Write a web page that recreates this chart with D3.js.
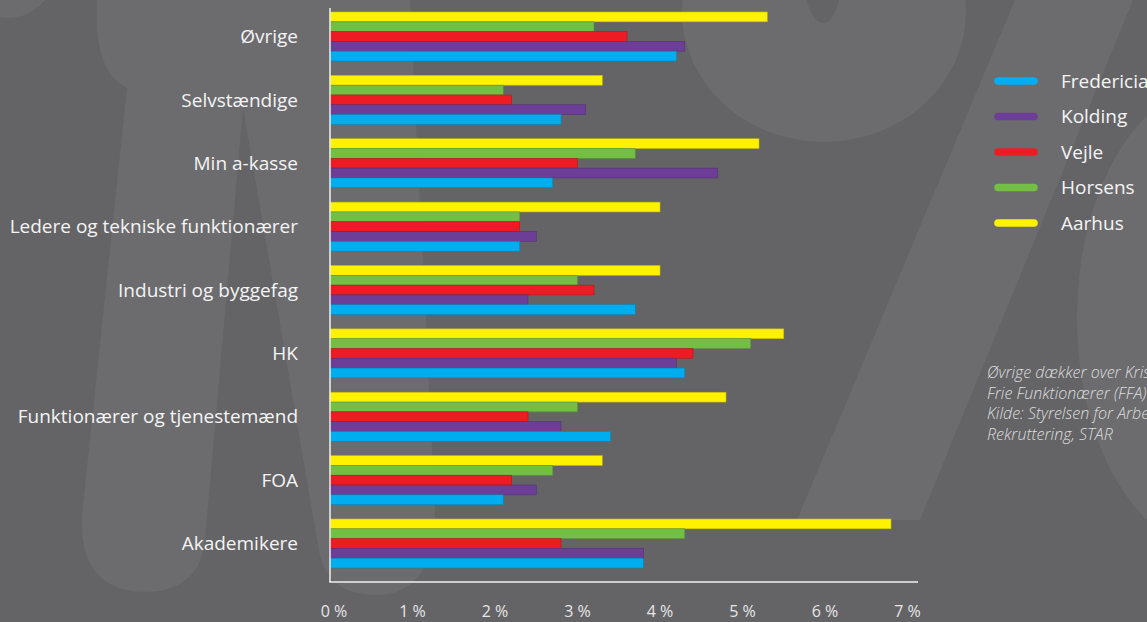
<!DOCTYPE html>
<html lang="da">
<head>
    <meta charset="UTF-8">
    <title>Ledighed fordelt på a-kasse</title>
    <script src="https://d3js.org/d3.v7.min.js"></script>
    <style>
        body{
            margin: 0;
            background-color: #646466;
        }
        svg text{
            font-family: "Open Sans", sans-serif;
        }
    </style>
</head>
<body>
<svg id="canvas" width="1147" height="622"></svg>
<script>
    // kategorier (oppefra og ned)
    let categories = ["Øvrige", "Selvstændige", "Min a-kasse", "Ledere og tekniske funktionærer",
        "Industri og byggefag", "HK", "Funktionærer og tjenestemænd", "FOA", "Akademikere"];

    // serier i rækkefølge oppefra i hver gruppe
    let cities = ["Aarhus", "Horsens", "Vejle", "Kolding", "Fredericia"];
    // legend-rækkefølge
    let legendOrder = ["Fredericia", "Kolding", "Vejle", "Horsens", "Aarhus"];

    let aarhus     = [5.3, 3.3, 5.2, 4.0, 4.0, 5.5, 4.8, 3.3, 6.8];
    let horsens    = [3.2, 2.1, 3.7, 2.3, 3.0, 5.1, 3.0, 2.7, 4.3];
    let vejle      = [3.6, 2.2, 3.0, 2.3, 3.2, 4.4, 2.4, 2.2, 2.8];
    let kolding    = [4.3, 3.1, 4.7, 2.5, 2.4, 4.2, 2.8, 2.5, 3.8];
    let fredericia = [4.2, 2.8, 2.7, 2.3, 3.7, 4.3, 3.4, 2.1, 3.8];

    let ticks = [0, 1, 2, 3, 4, 5, 6, 7];

    let colors = {
        Fredericia: "#00aeef",
        Kolding: "#6d3e97",
        Vejle: "#ed1c24",
        Horsens: "#72bf44",
        Aarhus: "#fff200"
    };

    let values = {Aarhus: aarhus, Horsens: horsens, Vejle: vejle, Kolding: kolding, Fredericia: fredericia};

    let svg = d3.select('svg');

    // baggrund: stort "%"-vandmærke
    let bg = svg.append('g').attr("fill", "#6c6c6e");
    bg.append('ellipse').attr("cx", 8).attr("cy", -22).attr("rx", 44).attr("ry", 40);
    bg.append('path').attr("d",
        "M97,0 L97,28 Q100,75 127,88 L82,515 Q78,592 147,592 Q200,590 205,540 " +
        "L243,108 L318,545 Q324,595 377,595 Q435,594 435,510 L410,0 Z");
    bg.append('ellipse').attr("cx", 824).attr("cy", 12).attr("rx", 142).attr("ry", 130);
    bg.append('ellipse').attr("cx", 823).attr("cy", -25).attr("rx", 19).attr("ry", 48).attr("fill", "#646466");
    bg.append('path').attr("d", "M1015,0 L1133,0 L920,520 L797,520 Z");
    bg.append('ellipse').attr("cx", 1215).attr("cy", 318).attr("rx", 138).attr("ry", 232);

    // skalaer
    let x = d3.scaleLinear().domain([0, 7]).range([330, 907.5]);
    let y = d3.scaleBand().domain(categories).range([12, 568]).paddingInner(0.227).paddingOuter(0);
    let yInner = d3.scaleBand().domain(cities).range([0, y.bandwidth()]);

    // søjler
    let groups = svg.append('g').selectAll('g')
        .data(categories)
        .enter()
        .append('g')
        .attr("transform", d => "translate(0," + y(d) + ")");

    groups.selectAll('rect')
        .data((d, i) => cities.map(c => ({city: c, value: values[c][i]})))
        .enter()
        .append('rect')
        .attr("x", x(0))
        .attr("y", d => yInner(d.city))
        .attr("width", d => x(d.value) - x(0))
        .attr("height", yInner.bandwidth())
        .attr("fill", d => colors[d.city])
        .attr("stroke", d => d3.color(colors[d.city]).darker(0.7))
        .attr("stroke-width", 0.6);

    // kategori-labels
    svg.append('g').selectAll('text')
        .data(categories)
        .enter()
        .append('text')
        .attr("x", 298)
        .attr("y", d => y(d) + y.bandwidth() / 2)
        .attr("dy", "0.35em")
        .attr("text-anchor", "end")
        .attr("fill", "#f4f4f4")
        .style("font-size", "19px")
        .text(d => d);

    // akser
    svg.append('line')
        .attr("x1", x(0)).attr("x2", x(0))
        .attr("y1", 8).attr("y2", 582)
        .attr("stroke", "#f0f0f0").attr("stroke-width", 1.5);
    svg.append('line')
        .attr("x1", x(0) - 0.75).attr("x2", 918)
        .attr("y1", 582).attr("y2", 582)
        .attr("stroke", "#f0f0f0").attr("stroke-width", 1.5);

    svg.append('g').selectAll('text')
        .data(ticks)
        .enter()
        .append('text')
        .attr("x", d => d === 0 ? x(d) + 4 : x(d))
        .attr("y", 617)
        .attr("text-anchor", "middle")
        .attr("fill", "#e6e6e6")
        .style("font-size", "16px")
        .text(d => d + " %");

    // legend
    let legend = svg.append('g').selectAll('g')
        .data(legendOrder)
        .enter()
        .append('g')
        .attr("transform", (d, i) => "translate(0," + (81 + i * 35.5) + ")");
    legend.append('line')
        .attr("x1", 998).attr("x2", 1034)
        .attr("stroke", d => colors[d])
        .attr("stroke-width", 7.5)
        .attr("stroke-linecap", "round");
    legend.append('text')
        .attr("x", 1061)
        .attr("dy", "0.35em")
        .attr("fill", "#f4f4f4")
        .style("font-size", "19px")
        .text(d => d);

    // fodnote (beskåret i højre kant som i originalen)
    let note = ["Øvrige dækker over Kristelig Fagbevægelse (Krifa) og",
        "Frie Funktionærer (FFA)",
        "Kilde: Styrelsen for Arbejdsmarked og",
        "Rekruttering, STAR"];
    svg.append('g').selectAll('text')
        .data(note)
        .enter()
        .append('text')
        .attr("x", 987)
        .attr("y", (d, i) => 378 + i * 20.5)
        .attr("fill", "#dedede")
        .style("font-size", "16px")
        .style("font-style", "italic")
        .style("font-weight", "300")
        .text(d => d);
</script>
</body>
</html>
